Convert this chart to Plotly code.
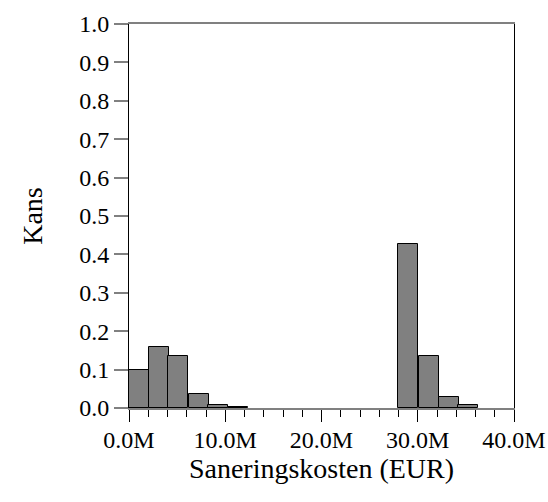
import plotly.graph_objects as go

# Data (EUR, in millions for bin left edges)
bin_left_low = [0.0, 2.07, 4.1, 6.2, 8.2, 10.25]
prob_low = [0.100, 0.160, 0.135, 0.037, 0.007, 0.003]
bin_left_high = [27.95, 30.1, 32.2, 34.2]
prob_high = [0.428, 0.136, 0.028, 0.007]
bin_width_m = 2.07

x_tick_vals_m = [0, 10, 20, 30, 40]
x_tick_text = ["0.0M", "10.0M", "20.0M", "30.0M", "40.0M"]
y_tick_vals = [0.0, 0.1, 0.2, 0.3, 0.4, 0.5, 0.6, 0.7, 0.8, 0.9, 1.0]
y_tick_text = ["0.0", "0.1", "0.2", "0.3", "0.4", "0.5", "0.6", "0.7", "0.8", "0.9", "1.0"]

M = 1e6
lefts = bin_left_low + bin_left_high
probs = prob_low + prob_high

fig = go.Figure(go.Bar(
    x=[l * M for l in lefts],
    y=probs,
    width=bin_width_m * M,
    offset=0,
    marker=dict(color="#808080", line=dict(color="#000000", width=1)),
    hoverinfo="x+y",
))

FONT = "Liberation Serif, Times New Roman, serif"
fig.update_layout(
    width=548, height=502,
    margin=dict(l=129, r=34, t=24, b=94),
    plot_bgcolor="white", paper_bgcolor="white",
    font=dict(family=FONT, size=24, color="black"),
    showlegend=False,
    bargap=0,
)
fig.update_xaxes(
    automargin=False,
    range=[0, 40 * M],
    tickvals=[v * M for v in x_tick_vals_m], ticktext=x_tick_text,
    ticks="outside", ticklen=12, tickwidth=1, tickcolor="black",
    ticklabelstandoff=-3,
    minor=dict(dtick=2 * M, tick0=0, ticks="outside", ticklen=7, tickwidth=1, tickcolor="black", showgrid=False),
    showline=True, linecolor="#808080", linewidth=2, mirror=True,
    showgrid=False, zeroline=False,
    tickfont=dict(family=FONT, size=24),
    title=dict(text="Saneringskosten (EUR)", font=dict(family=FONT, size=28), standoff=6),
)
fig.update_yaxes(
    automargin=False,
    range=[0, 1.0],
    tickvals=y_tick_vals, ticktext=y_tick_text,
    ticks="outside", ticklen=14, tickwidth=2, tickcolor="#808080",
    showline=True, linecolor="black", linewidth=1, mirror=True,
    showgrid=False, zeroline=False,
    tickfont=dict(family=FONT, size=24),
    title=dict(text="Kans", font=dict(family=FONT, size=28), standoff=28),
)

fig.write_html(
    "out.html",
    config={"displayModeBar": False},
    post_script="document.body.style.margin='0';document.body.style.overflow='hidden';",
)
